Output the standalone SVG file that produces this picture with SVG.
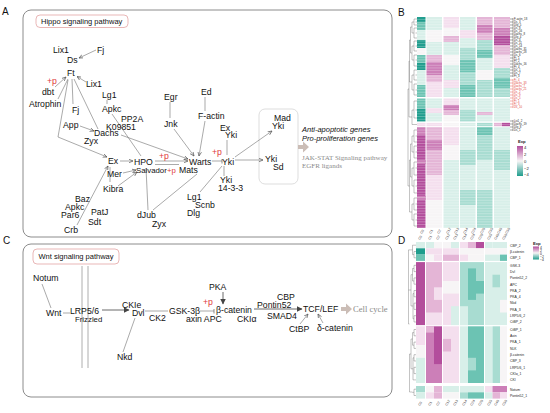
<svg xmlns="http://www.w3.org/2000/svg" width="550" height="413" viewBox="0 0 550 413">
<defs>
<style>
text{font-family:"Liberation Sans",Arial,sans-serif;fill:#111}
.n{font-size:8.7px}
.s{font-size:7.8px}
.r{fill:#e03a3a}
.pl{font-size:10px}
.ttl{font-size:7.5px}
.it{font-size:7.5px;font-style:italic}
.gs{font-family:"Liberation Serif","Times New Roman",serif;fill:#8a8a8a}
.ln{stroke:#707070;stroke-width:0.6;fill:none}
.lk{stroke:#444;stroke-width:0.8;fill:none}
.pn{fill:none;stroke:#8c8c8c;stroke-width:1}
.lb{fill:#fff;stroke:#e3a5a5;stroke-width:0.8}
.ba{fill:#cbbdb6}
.m4{fill:#b34e9c}.m3{fill:#cc7fb8}.m2{fill:#e4b5d6}.m1{fill:#f4dfee}
.w{fill:#f7f5f6}.t1{fill:#d8efe9}.t2{fill:#a8dcd1}.t3{fill:#6cc3b3}.t4{fill:#1f9d8d}
.hl{font-size:2.8px;fill:#222}
.hr{font-size:2.8px;fill:#e0403a}
.dl{font-size:3.4px;fill:#222}
.cl{font-size:3.4px;fill:#444}
.lg{font-size:4.2px;fill:#222}
.dg{stroke:#555;stroke-width:0.35;fill:none}
</style>
<marker id="ah" viewBox="0 0 6 6" refX="5.5" refY="3" markerWidth="4.5" markerHeight="4.5" orient="auto" markerUnits="userSpaceOnUse"><path d="M0,0.6 L5.5,3 L0,5.4" fill="none" stroke="#555" stroke-width="0.9"/></marker>
<marker id="af" viewBox="0 0 6 6" refX="5.5" refY="3" markerWidth="6" markerHeight="6" orient="auto" markerUnits="userSpaceOnUse"><path d="M0,0 L6,3 L0,6 Z" fill="#444"/></marker>
<marker id="tee" viewBox="0 0 2 6" refX="1" refY="3" markerWidth="2" markerHeight="5" orient="auto" markerUnits="userSpaceOnUse"><path d="M1,0 V6" stroke="#555" stroke-width="0.8"/></marker>
<pattern id="rows" width="6" height="2.7" patternUnits="userSpaceOnUse"><rect x="0" y="0" width="6" height="0.45" fill="#ffffff" opacity="0.55"/></pattern>
<linearGradient id="gl" x1="0" y1="0" x2="0" y2="1"><stop offset="0" stop-color="#b34e9c"/><stop offset="0.5" stop-color="#f7f5f6"/><stop offset="1" stop-color="#1f9d8d"/></linearGradient>
</defs>
<rect width="550" height="413" fill="#fff"/>

<!-- panel labels -->
<text class="pl" x="2" y="15">A</text>
<text class="pl" x="398" y="16">B</text>
<text class="pl" x="3" y="244">C</text>
<text class="pl" x="398" y="244">D</text>

<!-- Panel A -->
<g id="panelA">
<rect class="pn" x="23" y="10" width="369" height="227" rx="8"/>
<rect class="lb" x="36" y="15" width="92" height="12.5" rx="4"/>
<text class="ttl" x="41" y="24">Hippo signaling pathway</text>
<rect x="259" y="109" width="39" height="75" rx="6" fill="none" stroke="#d4d4d4" stroke-width="0.8"/>
</g>

<g id="connectorsA">
<path class="ln" d="M96,50 L79,58" marker-end="url(#ah)"/>
<path class="ln" d="M55,87 L66,77" marker-end="url(#ah)"/>
<path class="ln" d="M58,99 L68,79"/>
<path class="ln" d="M86,82 L77,76.5" marker-end="url(#ah)"/>
<path class="ln" d="M72,79 L73,104"/>
<path class="ln" d="M68,80 L58,137 L107,157" marker-end="url(#ah)"/>
<path class="ln" d="M74,79 L98,129"/>
<path class="ln" d="M80,126 L94,131" marker-end="url(#ah)"/>
<path class="ln" d="M107,100 L107,104"/>
<path class="ln" d="M112,114 L141,156"/>
<path class="ln" d="M121,135 L188,159" marker-end="url(#ah)"/>
<path class="ln" d="M170,102 L170,118"/>
<path class="ln" d="M174,129 L194,156" marker-end="url(#ah)"/>
<path class="ln" d="M205,97 L205,111"/>
<path class="ln" d="M205,121 L199,156" marker-end="url(#ah)"/>
<path class="ln" d="M120,161 L133,161" marker-end="url(#ah)"/>
<path class="ln" d="M155,161 L188,161" marker-end="url(#ah)"/>
<path class="ln" d="M155,164.5 L179,164.5"/>
<path class="ln" d="M212,161 L222,161" marker-end="url(#tee)"/>
<path class="ln" d="M227,140 L227,155"/>
<path class="ln" d="M235,157 L272,131" marker-end="url(#ah)"/>
<path class="ln" d="M235,160 L263,160" marker-end="url(#ah)"/>
<path class="ln" d="M224,166 L224,176"/>
<path class="ln" d="M222,166 L200,192"/>
<path class="ln" d="M197,174 L153,210"/>
<path class="ln" d="M146,168 L148,210"/>
<path class="ln" d="M123,173 L136,170" marker-end="url(#ah)"/>
<path class="ln" d="M118,186 L137,172" marker-end="url(#ah)"/>
<path class="ln" d="M110,182 L110,167"/>
<path class="ln" d="M77,225 L108,166" marker-end="url(#ah)"/>
<polygon class="ba" points="298,145 303,145 303,141.5 309,147 303,152.5 303,149 298,149"/>
</g>

<g id="nodesA">
<g id="n-lix1a"><text class="n" x="53" y="53">Lix1</text></g>
<g id="n-fja"><text class="n" x="97" y="53">Fj</text></g>
<g id="n-ds"><text class="n" x="67" y="63">Ds</text></g>
<g id="n-ft"><text class="n" x="67" y="76">Ft</text></g>
<g id="n-p1"><text class="n r" x="47" y="84">+p</text></g>
<g id="n-dbt"><text class="n" x="42" y="95">dbt</text></g>
<g id="n-atrophin"><text class="n" x="29" y="107">Atrophin</text></g>
<g id="n-lix1b"><text class="n" x="86" y="87">Lix1</text></g>
<g id="n-fjb"><text class="n" x="72" y="113">Fj</text></g>
<g id="n-lg1a"><text class="n" x="102" y="98">Lg1</text></g>
<g id="n-apkca"><text class="n" x="102" y="112">Apkc</text></g>
<g id="n-pp2a"><text class="n" x="121" y="121.5">PP2A</text></g>
<g id="n-k09851"><text class="n" x="106" y="129.5">K09851</text></g>
<g id="n-app"><text class="n" x="63" y="128">App</text></g>
<g id="n-dachs"><text class="n" x="94" y="136">Dachs</text></g>
<g id="n-zyxa"><text class="n" x="84" y="143.5">Zyx</text></g>
<g id="n-egr"><text class="n" x="164" y="100">Egr</text></g>
<g id="n-jnk"><text class="n" x="164" y="127">Jnk</text></g>
<g id="n-ed"><text class="n" x="201" y="95">Ed</text></g>
<g id="n-factin"><text class="n" x="198" y="119">F-actin</text></g>
<g id="n-exa"><text class="n" x="108" y="164">Ex</text></g>
<g id="n-hpo"><text class="n" x="134" y="165">HPO</text></g>
<g id="n-p2"><text class="n r" x="159" y="159">+p</text></g>
<g id="n-warts"><text class="n" x="189" y="165">Warts</text></g>
<g id="n-salvador"><text class="s" x="136" y="173">Salvador</text><text class="s r" x="167" y="173">+p</text><text class="n" x="179" y="172.5">Mats</text></g>
<g id="n-p3"><text class="n r" x="212" y="155">+p</text></g>
<g id="n-yki"><text class="n" x="222" y="165">Yki</text></g>
<g id="n-exyki"><text class="n" x="220" y="131">Ex</text><text class="n" x="225" y="138">Yki</text></g>
<g id="n-madyki"><text class="n" x="274" y="121">Mad</text><text class="n" x="272" y="128.5">Yki</text></g>
<g id="n-ykisd"><text class="n" x="265" y="162">Yki</text><text class="n" x="273" y="170">Sd</text></g>
<g id="n-yki1433"><text class="n" x="220" y="183">Yki</text><text class="n" x="218" y="191">14-3-3</text></g>
<g id="n-lg1b"><text class="n" x="187" y="200">Lg1</text><text class="n" x="195" y="208">Scnb</text><text class="n" x="187" y="215.5">Dlg</text></g>
<g id="n-mer"><text class="n" x="107" y="177">Mer</text></g>
<g id="n-kibra"><text class="n" x="103" y="192">Kibra</text></g>
<g id="n-baz"><text class="n" x="75" y="202">Baz</text><text class="n" x="65" y="210">Apkc</text><text class="n" x="61" y="217.5">Par6</text><text class="n" x="64" y="233">Crb</text></g>
<g id="n-patj"><text class="n" x="91" y="215">PatJ</text><text class="n" x="88" y="225">Sdt</text></g>
<g id="n-djub"><text class="n" x="137" y="218">dJub</text><text class="n" x="152" y="227">Zyx</text></g>
<g id="n-genes"><text class="it" x="302" y="132">Anti-apoptotic genes</text><text class="it" x="302" y="141">Pro-proliferation genes</text>
<text class="gs" font-size="7" x="302" y="160">JAK-STAT Signaling pathway</text><text class="gs" font-size="7" x="302" y="168">EGFR ligands</text></g>
</g>

<!-- Panel C -->
<g id="panelC">
<rect class="pn" x="23" y="244" width="369" height="153" rx="8"/>
<rect class="lb" x="33" y="249" width="86" height="15" rx="4"/>
<text class="ttl" x="38.5" y="259">Wnt signaling pathway</text>
<path d="M82,266 V368 M88,266 V368" stroke="#9a9a9a" stroke-width="0.8" fill="none"/>
</g>

<g id="connectorsC">
<path class="ln" d="M42,284 L51,308"/>
<path class="ln" d="M63,313 L70,313"/>
<path class="lk" d="M102,310 L129,310" marker-end="url(#af)"/>
<path class="ln" d="M123,352 L135,318"/>
<path class="ln" d="M145,311 L168,311"/>
<path class="ln" d="M200,311 L214,311" marker-end="url(#tee)"/>
<path class="lk" d="M223,292 L223,304" marker-end="url(#af)"/>
<path class="lk" d="M254,309 L302,309" marker-end="url(#af)"/>
<path class="ln" d="M300,324 L308,314" marker-end="url(#ah)"/>
<path class="ln" d="M323,323 L318,314" marker-end="url(#ah)"/>
<polygon class="ba" points="341,307 346,307 346,303.5 352,309 346,314.5 346,311 341,311"/>
</g>

<g id="nodesC">
<g id="c-notum"><text class="n" x="33" y="281">Notum</text></g>
<g id="c-wnt"><text class="n" x="46" y="316">Wnt</text></g>
<g id="c-lrp"><text class="n" x="70" y="314">LRP5/6</text><text class="s" x="75" y="322">Frizzled</text></g>
<g id="c-dvl"><text class="n" x="122" y="308">CKIe</text><text class="n" x="132" y="316">Dvl</text></g>
<g id="c-ck2"><text class="n" x="149" y="321">CK2</text></g>
<g id="c-nkd"><text class="n" x="117" y="360">Nkd</text></g>
<g id="c-gsk"><text class="n" x="169" y="314">GSK-3β</text><text class="n" x="186" y="322">axin APC</text></g>
<g id="c-p"><text class="n r" x="203" y="305">+p</text></g>
<g id="c-pka"><text class="n" x="209" y="290">PKA</text></g>
<g id="c-bcat"><text class="n" x="216" y="313">β-catenin</text><text class="n" x="237" y="322">CKIα</text></g>
<g id="c-cbp"><text class="n" x="277" y="300">CBP</text><text class="n" x="257" y="308">Pontin52</text><text class="n" x="267" y="319">SMAD4</text></g>
<g id="c-tcf"><text class="n" x="303" y="312">TCF/LEF</text></g>
<g id="c-cell"><text class="gs" font-size="8.6" x="353" y="312">Cell cycle</text></g>
<g id="c-ctbp"><text class="n" x="289" y="332">CtBP</text></g>
<g id="c-dcat"><text class="n" x="317" y="331">δ-catenin</text></g>
</g>

<!-- Panel B heatmap -->
<g id="heatmapB">
<rect class="t4" x="417" y="17" width="8.5" height="5"/><rect class="t3" x="417" y="22" width="8.5" height="8"/><rect class="t1" x="417" y="30" width="8.5" height="10"/><rect class="t4" x="417" y="40" width="8.5" height="8"/><rect class="w" x="417" y="48" width="8.5" height="7"/><rect class="t3" x="417" y="55" width="8.5" height="8"/><rect class="t4" x="417" y="63" width="8.5" height="7"/><rect class="t1" x="417" y="70" width="8.5" height="15"/><rect class="t3" x="417" y="85" width="8.5" height="12"/>
<rect class="t1" x="426.5" y="17" width="15.5" height="13"/><rect class="w" x="426.5" y="30" width="15.5" height="12"/><rect class="t1" x="426.5" y="42" width="15.5" height="13"/><rect class="m2" x="426.5" y="55" width="15.5" height="7"/><rect class="m3" x="426.5" y="62" width="15.5" height="13"/><rect class="m2" x="426.5" y="75" width="15.5" height="7"/><rect class="m1" x="426.5" y="82" width="15.5" height="15"/>
<rect class="m1" x="443.5" y="17" width="15.5" height="11"/><rect class="w" x="443.5" y="28" width="15.5" height="8"/><rect class="m2" x="443.5" y="36" width="15.5" height="6"/><rect class="t1" x="443.5" y="42" width="15.5" height="13"/><rect class="w" x="443.5" y="55" width="15.5" height="10"/><rect class="t1" x="443.5" y="65" width="15.5" height="15"/><rect class="m1" x="443.5" y="80" width="15.5" height="8"/><rect class="t1" x="443.5" y="88" width="15.5" height="9"/>
<rect class="t1" x="460" y="17" width="15.5" height="13"/><rect class="m1" x="460" y="30" width="15.5" height="8"/><rect class="t1" x="460" y="38" width="15.5" height="10"/><rect class="t2" x="460" y="48" width="15.5" height="12"/><rect class="t3" x="460" y="60" width="15.5" height="12"/><rect class="t2" x="460" y="72" width="15.5" height="13"/><rect class="t3" x="460" y="85" width="15.5" height="12"/>
<rect class="m2" x="477" y="17" width="15.5" height="8"/><rect class="m3" x="477" y="25" width="15.5" height="8"/><rect class="m2" x="477" y="33" width="15.5" height="7"/><rect class="t2" x="477" y="40" width="15.5" height="10"/><rect class="t3" x="477" y="50" width="15.5" height="8"/><rect class="t1" x="477" y="58" width="15.5" height="12"/><rect class="w" x="477" y="70" width="15.5" height="10"/><rect class="t2" x="477" y="80" width="15.5" height="17"/>
<rect class="m2" x="494" y="17" width="16" height="11"/><rect class="m3" x="494" y="28" width="16" height="8"/><rect class="m4" x="494" y="36" width="16" height="9"/><rect class="m2" x="494" y="45" width="16" height="10"/><rect class="m1" x="494" y="55" width="16" height="13"/><rect class="t2" x="494" y="68" width="16" height="10"/><rect class="t3" x="494" y="78" width="16" height="10"/><rect class="t2" x="494" y="88" width="16" height="9"/>
<rect class="t3" x="417" y="98.5" width="8.5" height="10"/><rect class="t4" x="417" y="108.5" width="8.5" height="13"/>
<rect class="t1" x="426.5" y="98.5" width="15.5" height="23"/><rect class="m1" x="426.5" y="108" width="15.5" height="5"/>
<rect class="m1" x="443.5" y="98.5" width="15.5" height="6.5"/><rect class="m3" x="443.5" y="105" width="15.5" height="5"/><rect class="m2" x="443.5" y="110" width="15.5" height="5"/><rect class="w" x="443.5" y="115" width="15.5" height="6.5"/>
<rect class="t1" x="460" y="98.5" width="15.5" height="11.5"/><rect class="t2" x="460" y="110" width="15.5" height="11.5"/>
<rect class="t1" x="477" y="98.5" width="15.5" height="23"/><rect class="m2" x="477" y="112" width="15.5" height="3"/>
<rect class="t1" x="494" y="98.5" width="16" height="23"/>
<rect class="m1" x="417" y="122.8" width="8.5" height="3.4"/><rect class="m1" x="426.5" y="122.8" width="15.5" height="3.4"/><rect class="w" x="443.5" y="122.8" width="15.5" height="3.4"/><rect class="t1" x="460" y="122.8" width="15.5" height="3.4"/><rect class="t2" x="477" y="122.8" width="15.5" height="3.4"/><rect class="m2" x="494" y="122.8" width="8" height="3.4"/><rect class="m4" x="502" y="122.8" width="8" height="3.4"/>
<rect class="m3" x="417" y="127" width="8.5" height="8"/><rect class="m4" x="417" y="135" width="8.5" height="93"/><rect class="m3" x="417" y="160" width="8.5" height="4"/><rect class="m3" x="417" y="196" width="8.5" height="4"/>
<rect class="m2" x="426.5" y="127" width="15.5" height="13"/><rect class="m3" x="426.5" y="140" width="15.5" height="10"/><rect class="m2" x="426.5" y="150" width="15.5" height="25"/><rect class="m1" x="426.5" y="175" width="15.5" height="25"/><rect class="w" x="426.5" y="200" width="15.5" height="28"/>
<rect class="m1" x="443.5" y="127" width="15.5" height="18"/><rect class="w" x="443.5" y="145" width="15.5" height="15"/><rect class="t1" x="443.5" y="160" width="15.5" height="68"/>
<rect class="t1" x="460" y="127" width="15.5" height="101"/><rect class="t2" x="460" y="150" width="15.5" height="15"/><rect class="t2" x="460" y="190" width="15.5" height="15"/>
<rect class="t3" x="477" y="127" width="15.5" height="8"/><rect class="t2" x="477" y="135" width="15.5" height="25"/><rect class="t1" x="477" y="160" width="15.5" height="30"/><rect class="t2" x="477" y="190" width="15.5" height="38"/>
<rect class="t1" x="494" y="127" width="16" height="23"/><rect class="t2" x="494" y="150" width="16" height="20"/><rect class="t1" x="494" y="170" width="16" height="58"/>
<rect x="417" y="17" width="93" height="211" fill="url(#rows)"/>
</g>

<g id="dendroB">
<path class="dg" d="M417,19 H414 V25 H417 M417,22 H415.5 M417,28 H414 V38 H417 M417,33 H415.5 M414,22 H412 V33 H414 M417,41 H414 V51 H417 M417,46 H415.5 M417,55 H414 V66 H417 M417,60 H415.5 M414,46 H412 V60 H414 M412,27 H410.5 V53 H412 M417,70 H414 V80 H417 M417,75 H415.5 M417,84 H414 V95 H417 M417,90 H415.5 M414,75 H412 V90 H414 M410.5,40 H409.5 V82 H412 M417,101 H414 V118 H417 M417,110 H415.5 M417,124.5 H413 M414,110 H412 V124.5 H413 M412,117 H410 M409.5,61 H409 V117 H410 M417,130 H414 V142 H417 M417,136 H415.5 M417,146 H414 V158 H417 M417,152 H415.5 M414,136 H412 V152 H414 M417,162 H414 V175 H417 M417,168 H415.5 M417,180 H414 V193 H417 M417,186 H415.5 M414,168 H412 V186 H414 M412,144 H410.5 V177 H412 M417,198 H414 V210 H417 M417,204 H415.5 M417,214 H414 V226 H417 M417,220 H415.5 M414,204 H412 V220 H414 M410.5,160 H409.5 V212 H412 M409,89 H408 V186 H409.5"/>
</g>

<g id="labelsB">
<path d="M510,19 H513 M510,22 H513 M510,25 H513 M510,28 H513 M510,31 H513 M510,34 H513 M510,37 H513 M510,40 H513 M510,43 H513 M510,46 H513 M510,49 H513 M510,52 H513 M510,55 H513 M510,58 H513 M510,61 H513 M510,64 H513 M510,67 H513 M510,70 H513 M510,73 H513 M510,76 H513 M513,18 V77" stroke="#222" stroke-width="0.4" fill="none"/>
<path d="M510,80 H513 M510,83 H513 M510,86 H513 M510,89 H513 M510,92 H513 M510,95 H513 M510,98 H513 M510,101 H513 M510,104 H513 M510,107 H513 M513,79 V108" stroke="#e0403a" stroke-width="0.4" fill="none"/>
<text class="hl" x="514" y="20">F-actin_18</text><text class="hl" x="514" y="23">Ds_3</text><text class="hl" x="514" y="26">Dlg_5</text><text class="hl" x="514" y="29">Ds_8</text><text class="hl" x="514" y="32">Ds_16</text><text class="hl" x="514" y="35">Dachs_8</text><text class="hl" x="514" y="38">Dlg_4</text><text class="hl" x="514" y="41">Ds_4</text><text class="hl" x="514" y="44">Ds_11</text><text class="hl" x="514" y="47">Ds_14</text><text class="hl" x="514" y="50">Dachs_31</text><text class="hl" x="514" y="53">Dachs_28</text><text class="hl" x="514" y="56">Ds_6</text><text class="hl" x="514" y="59">Fj_1</text><text class="hl" x="514" y="62">Ft_2</text><text class="hl" x="514" y="65">Dachs_16</text><text class="hl" x="514" y="68">Ft_4</text><text class="hl" x="514" y="71">Ds_1</text><text class="hl" x="514" y="74">Ds_7</text><text class="hl" x="514" y="77">Ft_3</text>
<text class="hr" x="514" y="81">Fj_4</text><text class="hr" x="514" y="84">Dachs_33</text><text class="hr" x="514" y="87">Dachs_7</text><text class="hr" x="514" y="90">Dachs_21</text><text class="hr" x="514" y="93">Ds_2</text><text class="hr" x="514" y="96">Ds_9</text><text class="hr" x="514" y="99">Ds_5</text><text class="hr" x="514" y="102">Ft_1</text><text class="hr" x="514" y="105">Fj_3</text><text class="hr" x="514" y="108">Ds_10</text>
<path d="M510,121 H513 M510,124 H513 M510,127 H513 M510,130 H513 M513,120 V131" stroke="#222" stroke-width="0.4" fill="none"/>
<text class="hl" x="514" y="122">Lix1_2</text><text class="hl" x="514" y="125">Dachs_19</text><text class="hl" x="514" y="128">Dlg_8</text><text class="hl" x="514" y="131">Ds_1</text>
<text class="lg" x="518" y="143" font-weight="bold">Exp</text>
<rect x="517" y="146" width="6" height="30" fill="url(#gl)"/>
<text class="lg" x="524" y="149">4</text><text class="lg" x="524" y="155.5">2</text><text class="lg" x="524" y="162.5">0</text><text class="lg" x="524" y="169.5">−2</text><text class="lg" x="524" y="176">−4</text>
<text class="cl" transform="translate(422,234) rotate(-60)">C0</text><text class="cl" transform="translate(431,234) rotate(-60)">C1</text><text class="cl" transform="translate(439,234) rotate(-60)">C2</text><text class="cl" transform="translate(448,234) rotate(-60)">C12</text><text class="cl" transform="translate(456,234) rotate(-60)">C13</text><text class="cl" transform="translate(465,234) rotate(-60)">C14</text><text class="cl" transform="translate(473,234) rotate(-60)">C24</text><text class="cl" transform="translate(482,234) rotate(-60)">C26</text><text class="cl" transform="translate(490,234) rotate(-60)">C35</text><text class="cl" transform="translate(499,234) rotate(-60)">C46</text><text class="cl" transform="translate(507,234) rotate(-60)">C56</text>
</g>

<!-- Panel D heatmap -->
<g id="heatmapD">
<rect class="t1" x="416" y="242" width="9" height="6.3"/><rect class="t1" x="426" y="242" width="8" height="6.3"/><rect class="w" x="434" y="242" width="8" height="6.3"/><rect class="w" x="443" y="242" width="8" height="6.3"/><rect class="t1" x="451" y="242" width="8" height="6.3"/><rect class="m1" x="460" y="242" width="8" height="6.3"/><rect class="m2" x="468" y="242" width="8" height="6.3"/><rect class="m4" x="476" y="242" width="8" height="6.3"/><rect class="t1" x="485" y="242" width="7.5" height="6.3"/><rect class="t1" x="492.5" y="242" width="7.5" height="6.3"/><rect class="t1" x="500" y="242" width="7" height="6.3"/>
<rect class="t4" x="416" y="248.3" width="9" height="6.3"/><rect class="m1" x="426" y="248.3" width="8" height="6.3"/><rect class="m1" x="434" y="248.3" width="8" height="6.3"/><rect class="m1" x="443" y="248.3" width="8" height="6.3"/><rect class="m1" x="451" y="248.3" width="8" height="6.3"/><rect class="w" x="460" y="248.3" width="24" height="6.3"/><rect class="w" x="485" y="248.3" width="22" height="6.3"/>
<rect class="t3" x="416" y="254.6" width="9" height="6.3"/><rect class="w" x="426" y="254.6" width="8" height="6.3"/><rect class="m1" x="434" y="254.6" width="8" height="6.3"/><rect class="m2" x="443" y="254.6" width="8" height="6.3"/><rect class="m2" x="451" y="254.6" width="8" height="6.3"/><rect class="m1" x="460" y="254.6" width="8" height="6.3"/><rect class="w" x="468" y="254.6" width="16" height="6.3"/><rect class="t1" x="485" y="254.6" width="15" height="6.3"/><rect class="t3" x="500" y="254.6" width="7" height="6.3"/>
<rect class="m4" x="416" y="262.1" width="9" height="63"/>
<rect class="m2" x="426" y="262.1" width="8" height="63"/><rect class="m2" x="434" y="262.1" width="8" height="63"/><rect class="m1" x="434" y="287.3" width="8" height="12.6"/><rect class="m1" x="426" y="312.5" width="16" height="12.6"/>
<rect class="m1" x="443" y="262.1" width="16" height="63"/><rect class="w" x="443" y="281" width="16" height="12.6"/><rect class="t1" x="451" y="306.2" width="8" height="18.9"/>
<rect class="t2" x="460" y="262.1" width="24" height="63"/><rect class="t3" x="468" y="268.4" width="8" height="31.5"/><rect class="t1" x="460" y="306.2" width="8" height="18.9"/><rect class="t3" x="476" y="281" width="8" height="12.6"/>
<rect class="t1" x="485" y="262.1" width="22" height="63"/><rect class="t2" x="492.5" y="274.7" width="7.5" height="12.6"/><rect class="w" x="500" y="299.9" width="7" height="12.6"/>
<rect class="m1" x="416" y="326.3" width="9" height="18.9"/><rect class="w" x="416" y="345.2" width="9" height="12.6"/><rect class="t1" x="416" y="357.8" width="9" height="25.2"/>
<rect class="m3" x="426" y="326.3" width="8" height="56.7"/><rect class="m2" x="426" y="326.3" width="8" height="6.3"/><rect class="m4" x="434" y="326.3" width="8" height="56.7"/><rect class="m3" x="434" y="364.1" width="8" height="18.9"/>
<rect class="m1" x="443" y="326.3" width="16" height="56.7"/><rect class="m2" x="443" y="338.9" width="8" height="12.6"/>
<rect class="t1" x="460" y="326.3" width="8" height="56.7"/><rect class="t3" x="468" y="326.3" width="16" height="56.7"/><rect class="t2" x="468" y="357.8" width="8" height="12.6"/>
<rect class="t1" x="485" y="326.3" width="7.5" height="56.7"/><rect class="t2" x="492.5" y="326.3" width="7.5" height="56.7"/><rect class="w" x="500" y="326.3" width="7" height="56.7"/>
<rect class="t2" x="416" y="386" width="9" height="6.3"/><rect class="w" x="426" y="386" width="8" height="6.3"/><rect class="m2" x="434" y="386" width="8" height="6.3"/><rect class="t1" x="443" y="386" width="16" height="6.3"/><rect class="t1" x="460" y="386" width="24" height="6.3"/><rect class="m1" x="485" y="386" width="7.5" height="6.3"/><rect class="m3" x="492.5" y="386" width="7.5" height="6.3"/><rect class="m3" x="500" y="386" width="7" height="6.3"/>
<rect class="t1" x="416" y="392.3" width="9" height="6.3"/><rect class="m1" x="426" y="392.3" width="8" height="6.3"/><rect class="m2" x="434" y="392.3" width="8" height="6.3"/><rect class="w" x="443" y="392.3" width="16" height="6.3"/><rect class="t2" x="460" y="392.3" width="8" height="6.3"/><rect class="t3" x="468" y="392.3" width="16" height="6.3"/><rect class="t1" x="485" y="392.3" width="7.5" height="6.3"/><rect class="m2" x="492.5" y="392.3" width="7.5" height="6.3"/><rect class="m1" x="500" y="392.3" width="7" height="6.3"/>
</g>

<g id="dendroD">
<path class="dg" d="M416,251.5 H414 V257.8 H416 M414,254.6 H412.5 V245.2 H416 M412.5,249.9 H408.5 V324 M416,265.3 H414 V271.6 H416 M416,277.9 H414 V284.2 H416 M414,268.5 H412.5 V281 H414 M416,290.5 H414 V296.8 H416 M416,303.1 H414 V309.4 H416 M416,315.7 H414 V322 H416 M414,293.6 H413 V318.8 H414 M413,306 H412.5 M412.5,274.7 H411 V306 H412.5 M411,290 H408.5 M416,329.5 H414 V335.8 H416 M416,342.1 H414 V348.4 H416 M414,332.6 H412.5 V345.2 H414 M416,354.7 H414 V361 H416 M416,367.3 H414 V373.6 H416 M416,379.9 H413 M414,357.8 H413 V379.9 M412.5,339 H411 V368.8 H413 M411,354 H409.5 V392 H412 M416,389.2 H414 V395.5 H416 M414,392.3 H412 M408.5,324 H409.5"/>
</g>

<g id="labelsD">
<text class="dl" x="510" y="246.5">CBP_2</text><text class="dl" x="510" y="252.8">β-catenin</text><text class="dl" x="510" y="259.1">CBP_1</text>
<text class="dl" x="510" y="266.6">GSK-3</text><text class="dl" x="510" y="272.9">Dvl</text><text class="dl" x="510" y="279.2">Pontin52_2</text><text class="dl" x="510" y="285.5">APC</text><text class="dl" x="510" y="291.8">PKA_2</text><text class="dl" x="510" y="298.1">PKA_4</text><text class="dl" x="510" y="304.4">Nkd</text><text class="dl" x="510" y="310.7">PKA_3</text><text class="dl" x="510" y="317">LRP5/6_2</text><text class="dl" x="510" y="323.3">CtBP_2</text>
<text class="dl" x="510" y="330.8">CtBP_1</text><text class="dl" x="510" y="337.1">Axin</text><text class="dl" x="510" y="343.4">PKA_1</text><text class="dl" x="510" y="349.7">NLK</text><text class="dl" x="510" y="356">β-catenin</text><text class="dl" x="510" y="362.3">CBP_3</text><text class="dl" x="510" y="368.6">LRP5/6_1</text><text class="dl" x="510" y="374.9">CKIα_1</text><text class="dl" x="510" y="381.2">CKI</text>
<text class="dl" x="510" y="390.5">Notum</text><text class="dl" x="510" y="396.8">Pontin52_1</text>
<text class="lg" x="533" y="245" font-size="3.6" font-weight="bold">Exp</text>
<rect x="533" y="246.5" width="6" height="13" fill="url(#gl)"/>
<text class="dl" x="540" y="248.5">4</text><text class="dl" x="540" y="251.5">2</text><text class="dl" x="540" y="254.5">0</text><text class="dl" x="540" y="257.5">−2</text><text class="dl" x="540" y="260.5">−4</text>
<text class="cl" transform="translate(420,240) rotate(-60)">C0</text><text class="cl" transform="translate(430,240) rotate(-60)">C1</text><text class="cl" transform="translate(438,240) rotate(-60)">C2</text><text class="cl" transform="translate(447,240) rotate(-60)">C12</text><text class="cl" transform="translate(455,240) rotate(-60)">C13</text><text class="cl" transform="translate(464,240) rotate(-60)">C14</text><text class="cl" transform="translate(472,240) rotate(-60)">C24</text><text class="cl" transform="translate(480,240) rotate(-60)">C26</text><text class="cl" transform="translate(489,240) rotate(-60)">C35</text><text class="cl" transform="translate(496,240) rotate(-60)">C46</text><text class="cl" transform="translate(504,240) rotate(-60)">C56</text>
<text class="cl" transform="translate(420,406) rotate(-60)">C0</text><text class="cl" transform="translate(430,406) rotate(-60)">C1</text><text class="cl" transform="translate(438,406) rotate(-60)">C2</text><text class="cl" transform="translate(447,406) rotate(-60)">C12</text><text class="cl" transform="translate(455,406) rotate(-60)">C13</text><text class="cl" transform="translate(464,406) rotate(-60)">C14</text><text class="cl" transform="translate(472,406) rotate(-60)">C24</text><text class="cl" transform="translate(480,406) rotate(-60)">C26</text><text class="cl" transform="translate(489,406) rotate(-60)">C35</text><text class="cl" transform="translate(496,406) rotate(-60)">C46</text><text class="cl" transform="translate(504,406) rotate(-60)">C56</text>
</g>
</svg>
